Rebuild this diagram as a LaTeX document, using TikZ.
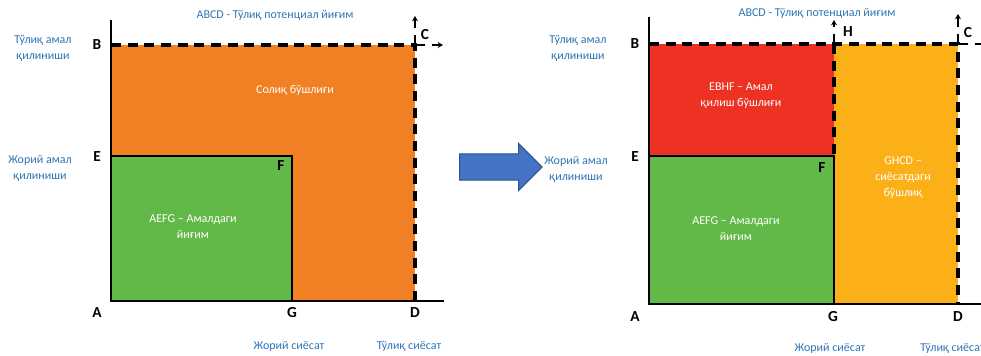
\documentclass[tikz,border=0pt]{standalone}
\usepackage{fontspec}
\setmainfont{Carlito}
\usetikzlibrary{shapes,arrows.meta,positioning,calc}

\definecolor{taxorange}{RGB}{240,128,35}
\definecolor{actgreen}{RGB}{98,185,71}
\definecolor{gapred}{RGB}{237,50,36}
\definecolor{policyyellow}{RGB}{252,176,23}
\definecolor{axisblue}{RGB}{46,117,182}
\definecolor{arrowblue}{RGB}{68,114,196}
\definecolor{arrowrim}{RGB}{47,82,143}

\begin{document}
\begin{tikzpicture}[
    x=0.75pt, y=-0.75pt,
    axis/.style={line width=1.5pt, black},
    boundary/.style={line width=1.6pt, black},
    potential/.style={line width=2.3pt, black, dash pattern=on 7.5pt off 5pt},
    growline/.style={line width=1.2pt, black, dash pattern=on 7.5pt off 5pt, -{Stealth[length=4pt,width=4.5pt]}},
    pointlbl/.style={font=\fontsize{11.5}{12}\selectfont\bfseries, inner sep=0pt},
    axislbl/.style={font=\fontsize{9}{12}\selectfont, text=axisblue, align=center, inner sep=0pt},
    arealbl/.style={font=\fontsize{9}{12}\selectfont, text=white, align=center, inner sep=0pt},
    bigarrow/.style={single arrow, fill=arrowblue, draw=arrowrim, line width=0.8pt,
        inner xsep=0pt, inner ysep=9.4pt, minimum height=62pt, single arrow head extend=7.9pt}
]
\useasboundingbox (0,0) rectangle (981,356);

% ---------------- Left diagram ----------------
\coordinate (lA) at (111,301);
\coordinate (lB) at (111,45);
\coordinate (lC) at (415,45);
\coordinate (lD) at (415,301);
\coordinate (lE) at (111,156);
\coordinate (lF) at (292,156);
\coordinate (lG) at (292,301);
\coordinate (lTop) at (111,20);
\coordinate (lEnd) at (444,301);
\coordinate (lCup) at (415,16);
\coordinate (lCright) at (443,45);

% areas
\fill[taxorange] (lA) rectangle (lC);
\fill[actgreen] (lA) rectangle (lF);
\draw[boundary] (lE) -- (lF) -- (lG);

% potential limit
\draw[potential] (lB) -- (lC) -- (lD);
\draw[growline] (lC) -- (lCup);
\draw[growline] (lC) -- (lCright);

% axes
\draw[axis] (lTop) -- (lA) -- (lEnd);

% point labels
\node[pointlbl] (lblA) at (97,313) {A};
\node[pointlbl] (lblB) at (97,45) {B};
\node[pointlbl] (lblC) at (425,35) {C};
\node[pointlbl] (lblD) at (415,313) {D};
\node[pointlbl] (lblE) at (97,157) {E};
\node[pointlbl] (lblF) at (281,166) {F};
\node[pointlbl] (lblG) at (292,313) {G};

% axis texts
\node[axislbl] (ltitle) at (275,15) {ABCD - Тўлиқ потенциал йиғим};
\node[axislbl] (lfull) at (43,48) {Тўлиқ амал\\қилиниши};
\node[axislbl] (lcur) at (40,168) {Жорий амал\\қилиниши};
\node[axislbl] (lpolcur) at (289,346) {Жорий сиёсат};
\node[axislbl] (lpolfull) at (409,346) {Тўлиқ сиёсат};

% area texts
\node[arealbl] (ltax) at (295,90) {Солиқ бўшлиғи};
\node[arealbl] (lact) at (193,227) {AEFG – Амалдаги\\йиғим};

% ---------------- Arrow ----------------
\node[bigarrow, anchor=tail] (shift) at (459,167) {};

% ---------------- Right diagram ----------------
\coordinate (rA) at (649,304);
\coordinate (rB) at (649,44);
\coordinate (rC) at (958,44);
\coordinate (rD) at (958,304);
\coordinate (rE) at (649,156);
\coordinate (rF) at (834,156);
\coordinate (rG) at (834,304);
\coordinate (rH) at (834,44);
\coordinate (rTop) at (649,17);
\coordinate (rEnd) at (990,304);
\coordinate (rCup) at (958,14);
\coordinate (rCright) at (995,44);
\coordinate (rHup) at (834,20);

% areas
\fill[gapred] (rE) rectangle (rH);
\fill[actgreen] (rA) rectangle (rF);
\fill[policyyellow] (rG) rectangle (rC);
\draw[boundary] (rE) -- (rF) -- (rG);

% potential limit
\draw[potential] (rB) -- (rC) -- (rD);
\draw[potential] (rH) -- (rF);
\draw[growline] (rH) -- (rHup);
\draw[growline] (rC) -- (rCup);
\draw[growline] (rC) -- (rCright);

% axes
\draw[axis] (rTop) -- (rA) -- (rEnd);

% point labels
\node[pointlbl] (rlblA) at (635,317) {A};
\node[pointlbl] (rlblB) at (635,44) {B};
\node[pointlbl] (rlblC) at (968,33) {C};
\node[pointlbl] (rlblD) at (958,317) {D};
\node[pointlbl] (rlblE) at (635,157) {E};
\node[pointlbl] (rlblF) at (822,168) {F};
\node[pointlbl] (rlblG) at (833,317) {G};
\node[pointlbl] (rlblH) at (848,32) {H};

% axis texts
\node[axislbl] (rtitle) at (817,13) {ABCD - Тўлиқ потенциал йиғим};
\node[axislbl] (rfull) at (578,48) {Тўлиқ амал\\қилиниши};
\node[axislbl] (rcur) at (576,169) {Жорий амал\\қилиниши};
\node[axislbl] (rpolcur) at (830,348) {Жорий сиёсат};
\node[axislbl, anchor=west] (rpolfull) at (920,348) {Тўлиқ сиёсат};

% area texts
\node[arealbl] (rgap) at (741,96) {EBHF – Амал\\қилиш бўшлиғи};
\node[arealbl] (rpol) at (903,178) {GHCD –\\сиёсатдаги\\бўшлиқ};
\node[arealbl] (ract) at (736,229) {AEFG – Амалдаги\\йиғим};

\end{tikzpicture}
\end{document}
